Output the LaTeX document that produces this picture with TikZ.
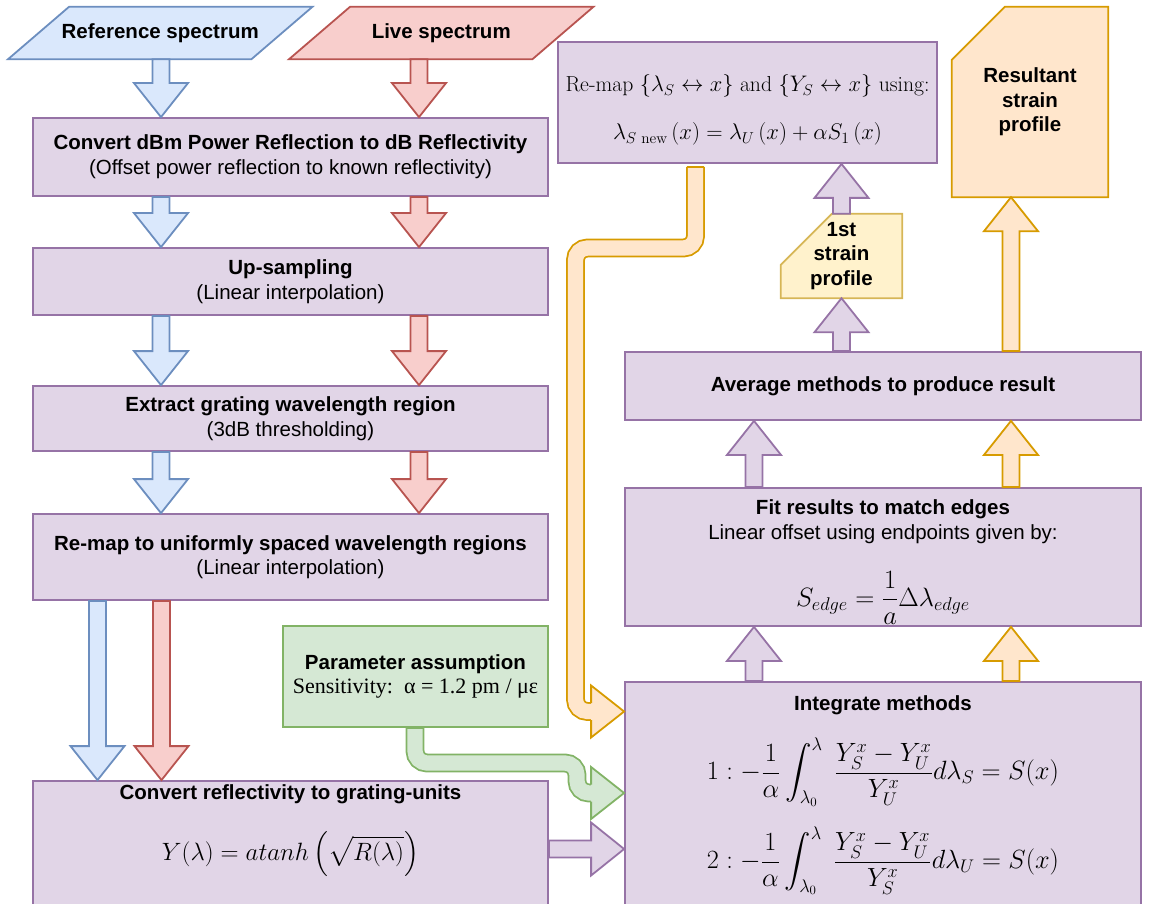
\documentclass[tikz,border=0pt]{standalone}
\usepackage{amsmath}
\usepackage{graphicx}
\usepackage{fontspec}
\newfontfamily\sansf{Liberation Sans}
\newfontfamily\grk{Liberation Serif}
\usetikzlibrary{calc,backgrounds}
\definecolor{blF}{HTML}{DAE8FC}\definecolor{blD}{HTML}{6C8EBF}
\definecolor{rdF}{HTML}{F8CECC}\definecolor{rdD}{HTML}{B85450}
\definecolor{puF}{HTML}{E1D5E7}\definecolor{puD}{HTML}{9673A6}
\definecolor{grF}{HTML}{D5E8D4}\definecolor{grD}{HTML}{82B366}
\definecolor{orF}{HTML}{FFE6CC}\definecolor{orD}{HTML}{D79B00}
\definecolor{yeF}{HTML}{FFF2CC}\definecolor{yeD}{HTML}{D6B656}
% block arrows: #1 style, #2 start, #3 tip
\newcommand\blkdown[3]{\draw[#1] let \p1=(#2), \p2=(#3) in
  (\x1-8.5pt,\y1) -- (\x1-8.5pt,\y2+34pt) -- (\x1-27pt,\y2+34pt) -- (\x1,\y2)
  -- (\x1+27pt,\y2+34pt) -- (\x1+8.5pt,\y2+34pt) -- (\x1+8.5pt,\y1) -- cycle;}
\newcommand\blkup[3]{\draw[#1] let \p1=(#2), \p2=(#3) in
  (\x1-8.5pt,\y1) -- (\x1-8.5pt,\y2-34pt) -- (\x1-27pt,\y2-34pt) -- (\x1,\y2)
  -- (\x1+27pt,\y2-34pt) -- (\x1+8.5pt,\y2-34pt) -- (\x1+8.5pt,\y1) -- cycle;}
\newcommand\blkright[3]{\draw[#1] let \p1=(#2), \p2=(#3) in
  (\x1,\y1+8.5pt) -- (\x2-33pt,\y1+8.5pt) -- (\x2-33pt,\y1+26.5pt) -- (\x2,\y1)
  -- (\x2-33pt,\y1-26.5pt) -- (\x2-33pt,\y1-8.5pt) -- (\x1,\y1-8.5pt) -- cycle;}
\begin{document}
\begin{tikzpicture}[x=1pt,y=-1pt,
  box/.style={rectangle, draw=puD, fill=puF, line width=1.8pt, inner sep=0pt},
  txt/.style={font=\sansf\fontsize{20.5}{24.6}\selectfont, align=center, inner sep=0pt},
  btxt/.style={font=\sansf\bfseries\fontsize{20.5}{24.6}\selectfont, align=center, inner sep=0pt},
  mtxt/.style={font=\fontsize{20}{24}\selectfont, inner sep=0pt},
  blarr/.style={draw=blD, fill=blF, line width=1.8pt},
  rdarr/.style={draw=rdD, fill=rdF, line width=1.8pt},
  puarr/.style={draw=puD, fill=puF, line width=1.8pt},
  orarr/.style={draw=orD, fill=orF, line width=1.8pt},
  grarr/.style={draw=grD, fill=grF, line width=1.8pt},
  orshaft/.style={draw=orD, double=orF, line width=1.8pt, double distance=15.2pt, rounded corners=12pt},
  grshaft/.style={draw=grD, double=grF, line width=1.8pt, double distance=15.2pt, rounded corners=12pt},
  para/.style={btxt, minimum width=304, minimum height=52},
]
\useasboundingbox (0,0) rectangle (1152,904);
\clip (0,0) rectangle (1152,904);

% ---------- input parallelograms
\node[para] (ref) at (160.25,33) {Reference spectrum};
\node[para] (live) at (441.25,33) {Live spectrum};
\begin{scope}[on background layer]
\draw[blarr] ($(ref.north west)+(61,0)$) -- (ref.north east) -- ($(ref.south east)+(-61,0)$) -- (ref.south west) -- cycle;
\draw[rdarr] ($(live.north west)+(61,0)$) -- (live.north east) -- ($(live.south east)+(-61,0)$) -- (live.south west) -- cycle;
\end{scope}

% ---------- left column
\node[box, txt, minimum width=515, minimum height=78] (conv1) at (290.5,157)
  {{\bfseries Convert dBm Power Reflection to dB Reflectivity}\\(Offset power reflection to known reflectivity)};
\node[box, txt, minimum width=515, minimum height=67] (ups) at (290.5,281.5)
  {{\bfseries Up-sampling}\\(Linear interpolation)};
\node[box, txt, minimum width=515, minimum height=65] (extr) at (290.5,418.5)
  {{\bfseries Extract grating wavelength region}\\(3dB thresholding)};
\node[box, txt, minimum width=515, minimum height=86] (remapU) at (290.5,557)
  {{\bfseries Re-map to uniformly spaced wavelength regions}\\(Linear interpolation)};
\node[box, minimum width=515, minimum height=144] (conv2) at (290.5,853) {};
\node[btxt] (conv2t) at ($(conv2.north)+(0,14)$) {Convert reflectivity to grating-units};
\node[mtxt] (conv2m) at ($(conv2.north)+(0,74)$) {\resizebox{257pt}{!}{$\displaystyle Y(\lambda)=atanh\left(\sqrt{R(\lambda)}\right)$}};

\node[draw=grD, fill=grF, line width=1.8pt, minimum width=265, minimum height=101, inner sep=0pt,
  align=center, font=\fontsize{20.5}{24.6}\selectfont] (param) at (415.5,676.5)
  {{\sansf\bfseries Parameter assumption}\\{\grk\fontsize{22}{24.6}\selectfont Sensitivity:~~α = 1.2 pm / με}};

% ---------- right column
\node[box, minimum width=379, minimum height=121] (remapT) at (747.5,102.5) {};
\node[mtxt] (rmA) at ($(remapT.north)+(0,45)$) {\resizebox{364pt}{!}{Re-map $\{\lambda_S \leftrightarrow x\}$ and $\{Y_S \leftrightarrow x\}$ using:}};
\node[mtxt] (rmB) at ($(remapT.north)+(0,93)$) {\resizebox{269pt}{!}{$\lambda_{S\text{ new}}\left(x\right)=\lambda_U\left(x\right)+\alpha S_1\left(x\right)$}};

\node[btxt, minimum width=156, minimum height=190] (result) at (1030,102) {Resultant\\strain\\profile};
\node[btxt, minimum width=121, minimum height=84] (first) at (841.5,256) {1st\\strain\\profile};
\begin{scope}[on background layer]
\draw[orarr] ($(result.north west)+(53,0)$) -- (result.north east) -- (result.south east) -- (result.south west) -- ($(result.north west)+(0,53)$) -- cycle;
\draw[draw=yeD, fill=yeF, line width=1.8pt] ($(first.north west)+(51,0)$) -- (first.north east) -- (first.south east) -- (first.south west) -- ($(first.north west)+(0,51)$) -- cycle;
\end{scope}

\node[box, btxt, minimum width=516, minimum height=68] (avg) at (883,386) {Average methods to produce result};

\node[box, minimum width=516, minimum height=138] (fit) at (883,557) {};
\node[btxt] (fitA) at ($(fit.north)+(0,22)$) {Fit results to match edges};
\node[txt] (fitB) at ($(fit.north)+(0,47)$) {Linear offset using endpoints given by:};
\node[mtxt] (fitC) at ($(fit.north)+(0,111)$) {\resizebox{174pt}{!}{$\displaystyle S_{edge}=\frac{1}{a}\Delta\lambda_{edge}$}};

\node[box, minimum width=516, minimum height=243] (integ) at (883,803.5) {};
\node[btxt] (intA) at ($(integ.north)+(0,24)$) {Integrate methods};
\node[mtxt] (intB) at ($(integ.north)+(0,91)$) {\resizebox{352pt}{!}{$\displaystyle 1:-\frac{1}{\alpha}\int_{\lambda_0}^{\lambda}\;\frac{Y_S^x-Y_U^x}{Y_U^x}d\lambda_S=S(x)$}};
\node[mtxt] (intC) at ($(integ.north)+(0,180)$) {\resizebox{352pt}{!}{$\displaystyle 2:-\frac{1}{\alpha}\int_{\lambda_0}^{\lambda}\;\frac{Y_S^x-Y_U^x}{Y_S^x}d\lambda_U=S(x)$}};

% ---------- arrow columns
\coordinate (cB) at (161,0);
\coordinate (cR) at (419,0);
\coordinate (cB2) at (97.5,0);
\coordinate (cR2) at (161.5,0);
\coordinate (cP) at (754,0);
\coordinate (cO) at (1011,0);
\coordinate (cP2) at (841.5,0);
\coordinate (rP) at (0,849);

% ---------- straight block arrows
\blkdown{blarr}{cB |- ref.south}{cB |- conv1.north}
\blkdown{rdarr}{cR |- live.south}{cR |- conv1.north}
\blkdown{blarr}{cB |- conv1.south}{cB |- ups.north}
\blkdown{rdarr}{cR |- conv1.south}{cR |- ups.north}
\blkdown{blarr}{cB |- ups.south}{cB |- extr.north}
\blkdown{rdarr}{cR |- ups.south}{cR |- extr.north}
\blkdown{blarr}{cB |- extr.south}{cB |- remapU.north}
\blkdown{rdarr}{cR |- extr.south}{cR |- remapU.north}
\blkdown{blarr}{cB2 |- remapU.south}{cB2 |- conv2.north}
\blkdown{rdarr}{cR2 |- remapU.south}{cR2 |- conv2.north}

\blkup{puarr}{cP |- integ.north}{cP |- fit.south}
\blkup{orarr}{cO |- integ.north}{cO |- fit.south}
\blkup{puarr}{cP |- fit.north}{cP |- avg.south}
\blkup{orarr}{cO |- fit.north}{cO |- avg.south}
\blkup{puarr}{cP2 |- avg.north}{cP2 |- first.south}
\blkup{puarr}{cP2 |- first.north}{cP2 |- remapT.south}
\blkup{orarr}{cO |- avg.north}{cO |- result.south}
\blkright{puarr}{conv2.east |- rP}{integ.west |- rP}

% ---------- bent orange arrow
\coordinate (oc) at (695.5,0);
\coordinate (ob) at (575.5,248);
\coordinate (orow) at (0,711.5);
\coordinate (oS) at ($(oc |- remapT.south)+(0,3)$);
\coordinate (oT) at (integ.west |- orow);
\draw[orshaft] (oS) -- (oc |- ob) -- (ob) -- (ob |- orow) -- ($(oT)+(-33,0)$);
\draw[orD, line width=1.8pt] ($(oS)+(-8.5,0)$) -- ($(oS)+(8.5,0)$);
\filldraw[orarr] ($(oT)+(-33,-8.5)$) -- ($(oT)+(-33,-26)$) -- (oT) -- ($(oT)+(-33,26)$) -- ($(oT)+(-33,8.5)$);

% ---------- bent green arrow
\coordinate (gc) at (415,0);
\coordinate (gb) at (577,763);
\coordinate (grow) at (0,793);
\coordinate (gS) at (gc |- param.south);
\coordinate (gT) at (integ.west |- grow);
\draw[grshaft] (gS) -- (gc |- gb) -- (gb) -- (gb |- grow) -- ($(gT)+(-33,0)$);
\draw[grD, line width=1.8pt] ($(gS)+(-8.5,0)$) -- ($(gS)+(8.5,0)$);
\filldraw[grarr] ($(gT)+(-33,-8.5)$) -- ($(gT)+(-33,-26)$) -- (gT) -- ($(gT)+(-33,26)$) -- ($(gT)+(-33,8.5)$);
\end{tikzpicture}
\end{document}
